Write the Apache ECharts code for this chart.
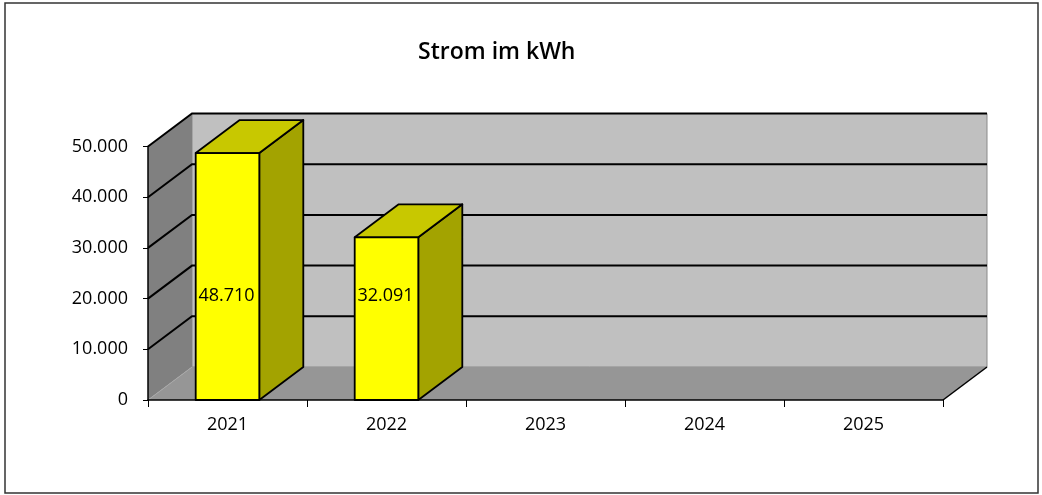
<!DOCTYPE html>
<html>
<head>
<meta charset="utf-8">
<script src="https://cdn.jsdelivr.net/npm/echarts@6/dist/echarts.min.js"></script>
<style>
html,body{margin:0;padding:0;background:#fff;}
#chart{width:1042px;height:495px;}
</style>
</head>
<body>
<div id="chart"></div>
<script>
// ---- data ----
var years = ['2021', '2022', '2023', '2024', '2025'];
var values = [48710, 32091, null, null, null];
var yTicks = [0, 10000, 20000, 30000, 40000, 50000];
var titleText = 'Strom im kWh';

// ---- style ----
var DX = 44, DY = -33;          // 3D depth offset (pixels)
var BAR_RATIO = 0.40;           // bar width relative to category
var LABEL_AT = 20500;           // label anchor in value units
var FONT = '"Open Sans", "DejaVu Sans", sans-serif';

function fmt(v) {
  return String(v).replace(/\B(?=(\d{3})+(?!\d))/g, '.');
}

var chart = echarts.init(document.getElementById('chart'));

var yMax = yTicks[yTicks.length - 1];

function renderWalls(params, api) {
  var bw = api.size([1, 0])[0];
  var L = api.coord([0, 0])[0] - bw / 2;
  var R = api.coord([years.length - 1, 0])[0] + bw / 2;
  var y0 = api.coord([0, 0])[1];
  var yT = api.coord([0, yMax])[1];
  var children = [];
  children.push({type: 'polygon', shape: {points: [[L + DX, yT + DY], [R + DX, yT + DY], [R + DX, y0 + DY], [L + DX, y0 + DY]]},
    style: {fill: '#C0C0C0', stroke: '#8a8a8a', lineWidth: 1}});
  children.push({type: 'polygon', shape: {points: [[L, y0], [L + DX, y0 + DY], [L + DX, yT + DY], [L, yT]]},
    style: {fill: '#808080', stroke: null}});
  children.push({type: 'polygon', shape: {points: [[L, y0], [R, y0], [R + DX, y0 + DY], [L + DX, y0 + DY]]},
    style: {fill: '#969696', stroke: null}});
  children.push({type: 'line', shape: {x1: R, y1: y0, x2: R + DX, y2: y0 + DY},
    style: {stroke: '#000', lineWidth: 1.5}});
  children.push({type: 'line', shape: {x1: L, y1: y0, x2: L + DX, y2: y0 + DY},
    style: {stroke: '#a8a8a8', lineWidth: 1}});
  yTicks.forEach(function (t) {
    if (t === 0) return;
    var y = api.coord([0, t])[1];
    children.push({type: 'polyline', shape: {points: [[L, y], [L + DX, y + DY], [R + DX, y + DY]]},
      style: {stroke: '#000', lineWidth: 2, fill: null}});
  });
  return {type: 'group', children: children};
}

function renderBar(params, api) {
  var idx = api.value(0);
  var v = api.value(1);
  if (v == null || isNaN(v)) return null;
  var bw = api.size([1, 0])[0];
  var w = bw * BAR_RATIO;
  var c = api.coord([idx, v]);
  var y0 = api.coord([idx, 0])[1];
  var x1 = c[0] - w / 2, x2 = c[0] + w / 2, yv = c[1];
  var ly = api.coord([idx, LABEL_AT])[1];
  var st = {stroke: '#000', lineWidth: 1.8, lineJoin: 'round'};
  return {type: 'group', children: [
    {type: 'polygon', shape: {points: [[x2, yv], [x2 + DX, yv + DY], [x2 + DX, y0 + DY], [x2, y0]]},
      style: Object.assign({fill: '#A3A300'}, st)},
    {type: 'polygon', shape: {points: [[x1, yv], [x2, yv], [x2 + DX, yv + DY], [x1 + DX, yv + DY]]},
      style: Object.assign({fill: '#C8C800'}, st)},
    {type: 'rect', shape: {x: x1, y: yv, width: w, height: y0 - yv},
      style: Object.assign({fill: '#FFFF00'}, st)},
    {type: 'text', x: c[0] - 1, y: ly,
      style: {text: fmt(v), fill: '#000', font: '18px ' + FONT, align: 'center', verticalAlign: 'middle'}}
  ]};
}

var option = {
  backgroundColor: '#fff',
  animation: false,
  title: {
    text: titleText,
    left: 413, top: 36,
    textStyle: {fontFamily: FONT, fontSize: 23, fontWeight: 600, color: '#000'}
  },
  grid: {left: 148, right: 99, top: 146.5, bottom: 95, containLabel: false},
  xAxis: {
    type: 'category', data: years, boundaryGap: true, z: 10,
    axisLine: {show: true, lineStyle: {color: '#000', width: 1.5}},
    axisTick: {show: true, alignWithLabel: false, length: 7, lineStyle: {color: '#000', width: 1}},
    axisLabel: {color: '#000', fontSize: 18, fontFamily: FONT, margin: 16},
    splitLine: {show: false}
  },
  yAxis: {
    type: 'value', min: 0, max: yMax, interval: 10000, z: 10,
    axisLine: {show: true, lineStyle: {color: '#000', width: 1.5}},
    axisTick: {show: true, length: 5, lineStyle: {color: '#000', width: 1}},
    axisLabel: {color: '#000', fontSize: 18, fontFamily: FONT, margin: 20, formatter: fmt},
    splitLine: {show: false}
  },
  graphic: [{
    type: 'rect', shape: {x: 5, y: 3, width: 1033, height: 490},
    style: {fill: null, stroke: '#333', lineWidth: 1.5}, silent: true
  }],
  series: [
    {type: 'custom', name: 'walls', data: [[0, 0]], renderItem: renderWalls, clip: false, z: 1, silent: true},
    {type: 'custom', name: 'Strom', data: years.map(function (y, i) { return [i, values[i]]; }),
      renderItem: renderBar, clip: false, z: 3, silent: true}
  ]
};
chart.setOption(option);
</script>
</body>
</html>
